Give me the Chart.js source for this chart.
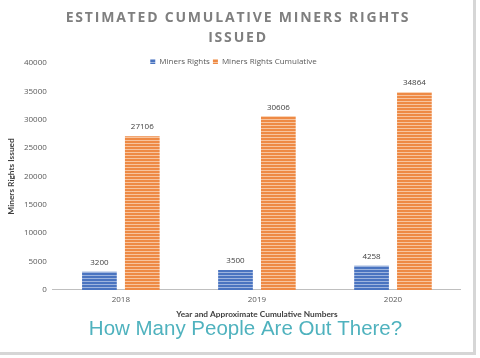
<!DOCTYPE html>
<html>
<head>
<meta charset="utf-8">
<script src="https://cdn.jsdelivr.net/npm/chart.js@4.4.1/dist/chart.umd.min.js"></script>
<style>
  html, body { margin: 0; padding: 0; background: #fff; }
  #cadre { position: relative; width: 473px; height: 352px; border-right: 3px solid #d6d6d6; border-bottom: 3px solid #d6d6d6; }
  #titre { position: absolute; left: 0; top: 7px; width: 476px; text-align: center; font: bold 14px/20px "Open Sans"; letter-spacing: 1.8px; color: #7f7f7f; }
</style>
</head>
<body>
<div id="cadre"><canvas id="chart"></canvas><div id="titre">ESTIMATED CUMULATIVE MINERS RIGHTS<br>ISSUED</div></div>
<script>
// donnees
const annees = ['2018', '2019', '2020'];
const droits = [3200, 3500, 4258];
const cumul = [27106, 30606, 34864];
const graduations = [0, 5000, 10000, 15000, 20000, 25000, 30000, 35000, 40000];
const legende_bas = 'How Many People Are Out There?';

// motif rayé horizontal des barres
function rayures(fond, trait){
    const c = document.createElement('canvas');
    c.width = 4; c.height = 3;
    const g = c.getContext('2d');
    g.fillStyle = fond; g.fillRect(0, 0, 4, 3);
    g.fillStyle = trait; g.fillRect(0, 2, 4, 1);
    return g.createPattern(c, 'repeat');
}
const bleu = rayures('#4a74c0', '#9db4de');
const orange = rayures('#ee8a45', '#f7c49e');

const retouches = {
    id: 'retouches',
    afterLayout(chart){
        // la legende est a la hauteur de la graduation du haut
        const lg = chart.legend;
        const dy = (chart.chartArea.top + 2) - (lg.top + lg.height / 2);
        lg.top += dy; lg.bottom += dy;
        // le texte du bas est un peu decale a droite
        chart.boxes.forEach(b => {
            if(b.options && b.options.text === legende_bas){ b.left += 12; b.right += 12; }
        });
    },
    // etiquettes au dessus des barres
    afterDatasetsDraw(chart){
        const ctx = chart.ctx;
        ctx.save();
        ctx.font = '8px "Open Sans"';
        ctx.fillStyle = '#404040';
        ctx.textAlign = 'center';
        ctx.textBaseline = 'bottom';
        chart.data.datasets.forEach((ds, i) => {
            chart.getDatasetMeta(i).data.forEach((barre, j) => {
                ctx.fillText(ds.data[j], barre.x, barre.y - 5);
            });
        });
        ctx.restore();
    }
};

const ctx = document.getElementById('chart').getContext('2d');
new Chart(ctx, {
    type: 'bar',
    data: {
        labels: annees,
        datasets: [{
            label: 'Miners Rights',
            data: droits,
            backgroundColor: bleu,
            borderWidth: 0
        }, {
            label: 'Miners Rights Cumulative',
            data: cumul,
            backgroundColor: orange,
            borderWidth: 0
        }]
    },
    options: {
        responsive: true,
        maintainAspectRatio: false,
        animation: false,
        datasets: { bar: { categoryPercentage: 0.63, barPercentage: 0.81 } },
        layout: { padding: { left: 6, right: 12, top: 42, bottom: 12 } },
        plugins: {
            title: { display: false },
            subtitle: {
                display: true,
                position: 'bottom',
                text: legende_bas,
                color: '#4fb2be',
                font: { family: '"Liberation Sans"', size: 20.5, weight: 'normal', lineHeight: 1 },
                padding: { top: 0, bottom: 0 }
            },
            legend: {
                position: 'top',
                labels: {
                    boxWidth: 5, boxHeight: 5,
                    color: '#595959',
                    font: { family: '"Open Sans"', size: 8 },
                    padding: 3
                }
            },
            tooltip: { enabled: false }
        },
        scales: {
            x: {
                grid: { display: false, drawTicks: false },
                border: { display: true, color: '#bfbfbf' },
                ticks: { color: '#595959', font: { family: '"Open Sans"', size: 8 }, padding: 5 },
                title: {
                    display: true,
                    text: 'Year and Approximate Cumulative Numbers',
                    color: '#404040',
                    font: { family: 'Lato', size: 8.3, weight: 'bold' },
                    padding: { top: 0, bottom: 0 }
                }
            },
            y: {
                min: 0, max: 40000,
                grid: { display: false, drawTicks: false },
                border: { display: false },
                afterBuildTicks(axis){ axis.ticks = graduations.map(v => ({ value: v })); },
                ticks: { color: '#595959', font: { family: '"Open Sans"', size: 8 }, padding: 6, callback: v => String(v) },
                title: {
                    display: true,
                    text: 'Miners Rights Issued',
                    color: '#404040',
                    font: { family: 'Lato', size: 8.3, weight: 'bold' },
                    padding: { top: 0, bottom: 2 }
                }
            }
        }
    },
    plugins: [retouches]
});
</script>
</body>
</html>
